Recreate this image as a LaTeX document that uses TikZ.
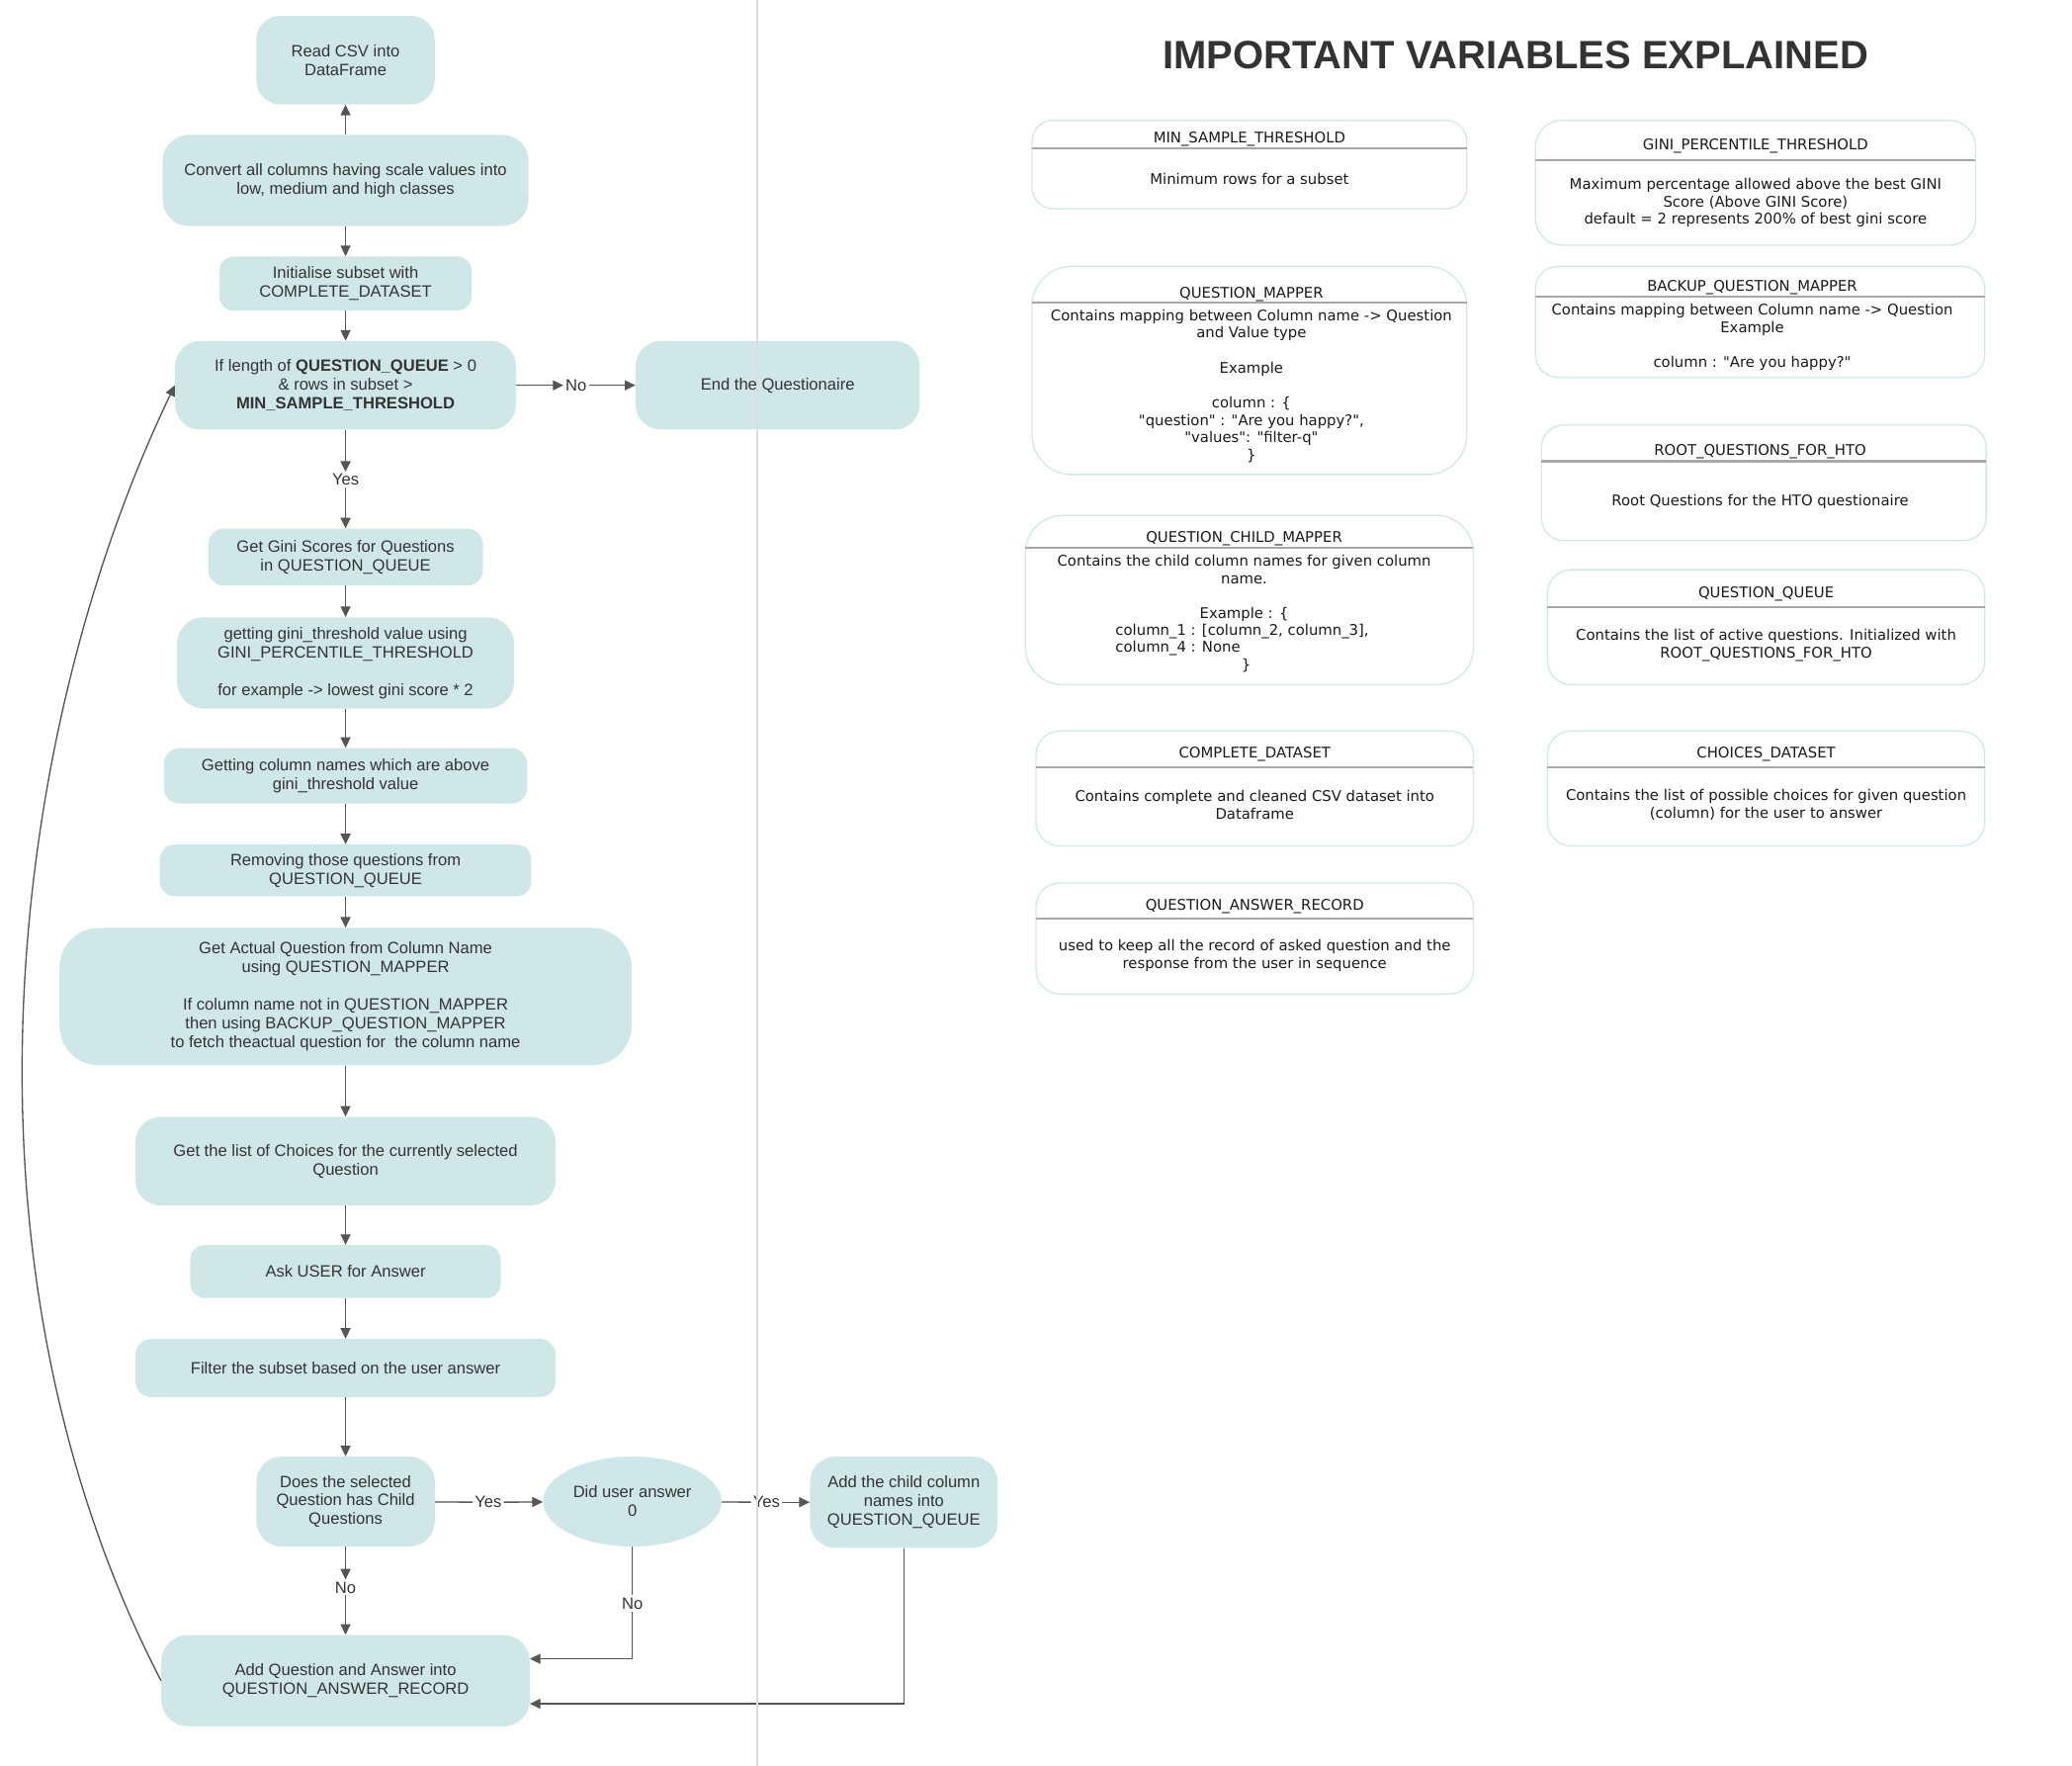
\documentclass[tikz,border=0pt]{standalone}
\usepackage{fontspec}
\usetikzlibrary{arrows.meta,shapes.geometric}
\newfontfamily\flowfont{Liberation Sans}
\newfontfamily\varfont{DejaVu Sans}
\definecolor{boxfill}{HTML}{D0E7E9}
\definecolor{txtgray}{HTML}{333333}
\definecolor{edgecol}{HTML}{555555}
\definecolor{rborder}{HTML}{D3E8EB}
\definecolor{sepcol}{HTML}{A8A8A8}
\definecolor{divcol}{HTML}{DDDDDD}
\definecolor{vartxt}{HTML}{1A1A1A}
\begin{document}
\begin{tikzpicture}[x=1pt,y=-1pt,
 flowbox/.style={fill=boxfill, inner sep=0pt, align=center, text=txtgray, font=\flowfont\fontsize{12.4}{14.2}\selectfont},
 lbl/.style={inner sep=1.5pt, text=txtgray, font=\flowfont\fontsize{12.4}{14.2}\selectfont},
 arr/.style={draw=edgecol, line width=1pt, -{Triangle[length=8pt,width=7.5pt]}},
 ln/.style={draw=edgecol, line width=1pt},
 varbox/.style={draw=rborder, line width=1pt, fill=white, inner sep=0pt},
 vtxt/.style={inner sep=0pt, align=center, text=vartxt, yshift=-1.5pt, font=\varfont\fontsize{11.1}{13.2}\selectfont},
 seprule/.style={draw=sepcol, line width=1.6pt},
]
\useasboundingbox[fill=white] (0,0) rectangle (1568,1336);

% ---------------- flowchart ----------------
\node[flowbox, minimum width=135pt, minimum height=67pt, rounded corners=18pt] (read) at (261.5,45.5) {Read CSV into\\DataFrame};
\node[flowbox, minimum width=277pt, minimum height=69pt, rounded corners=20pt] (conv) at (261.5,136.5) {Convert all columns having scale values into\\low, medium and high classes};
\node[flowbox, minimum width=191pt, minimum height=41pt, rounded corners=11pt] (init) at (261.5,214.5) {Initialise subset with\\COMPLETE\_DATASET};
\node[flowbox, minimum width=258pt, minimum height=67pt, rounded corners=19pt] (dec) at (261.5,291.5) {If length of \textbf{QUESTION\_QUEUE} > 0\\\& rows in subset >\\\textbf{MIN\_SAMPLE\_THRESHOLD}};
\node[flowbox, minimum width=215pt, minimum height=67pt, rounded corners=19pt] (end) at (588.5,291.5) {End the Questionaire};
\node[flowbox, minimum width=208pt, minimum height=43pt, rounded corners=12pt] (gini) at (261.5,421.5) {Get Gini Scores for Questions\\in QUESTION\_QUEUE};
\node[flowbox, minimum width=255pt, minimum height=69pt, rounded corners=20pt] (thr) at (261.5,501.5) {getting gini\_threshold value using\\GINI\_PERCENTILE\_THRESHOLD\\[14.2pt]for example -> lowest gini score * 2};
\node[flowbox, minimum width=275pt, minimum height=42pt, rounded corners=12pt] (cols) at (261.5,587) {Getting column names which are above\\gini\_threshold value};
\node[flowbox, minimum width=281pt, minimum height=39pt, rounded corners=11pt] (rem) at (261.5,658.5) {Removing those questions from\\QUESTION\_QUEUE};
\node[flowbox, minimum width=433pt, minimum height=104pt, rounded corners=30pt] (act) at (261.5,754) {Get Actual Question from Column Name\\using QUESTION\_MAPPER\\[14.2pt]If column name not in QUESTION\_MAPPER\\then using BACKUP\_QUESTION\_MAPPER\\to fetch theactual question for\ \ the column name};
\node[flowbox, minimum width=318pt, minimum height=67pt, rounded corners=19pt] (choi) at (261.5,878.5) {Get the list of Choices for the currently selected\\Question};
\node[flowbox, minimum width=235pt, minimum height=40pt, rounded corners=11pt] (ask) at (261.5,962) {Ask USER for Answer};
\node[flowbox, minimum width=318pt, minimum height=44pt, rounded corners=12pt] (filt) at (261.5,1035) {Filter the subset based on the user answer};
\node[flowbox, minimum width=135pt, minimum height=68pt, rounded corners=19pt] (does) at (261.5,1136) {Does the selected\\Question has Child\\Questions};
\node[flowbox, ellipse, minimum width=135pt, minimum height=68pt] (ell) at (478.5,1136) {Did user answer\\0};
\node[flowbox, minimum width=142pt, minimum height=69pt, rounded corners=19pt] (child) at (684,1136.5) {Add the child column\\names into\\QUESTION\_QUEUE};
\node[flowbox, minimum width=279pt, minimum height=69pt, rounded corners=20pt] (add) at (261.5,1271.5) {Add Question and Answer into\\QUESTION\_ANSWER\_RECORD};

% labels
\node[lbl] (lNo1) at (436,291.5) {No};
\node[lbl] (lYes1) at (261.5,363) {Yes};
\node[lbl] (lNo2) at (261.5,1201) {No};
\node[lbl] (lYes2) at (369.5,1136.5) {Yes};
\node[lbl] (lYes3) at (580,1136.5) {Yes};
\node[lbl] (lNo3) at (478.5,1213) {No};
\coordinate (c1) at (401,1255);
\coordinate (c2) at (401,1289);

% connectors
\draw[arr] (conv) -- (read);
\draw[arr] (conv) -- (init);
\draw[arr] (init) -- (dec);
\draw[arr] (dec) -- (lNo1);
\draw[arr] (lNo1) -- (end);
\draw[arr] (dec) -- (lYes1);
\draw[arr] (lYes1) -- (gini);
\draw[arr] (gini) -- (thr);
\draw[arr] (thr) -- (cols);
\draw[arr] (cols) -- (rem);
\draw[arr] (rem) -- (act);
\draw[arr] (act) -- (choi);
\draw[arr] (choi) -- (ask);
\draw[arr] (ask) -- (filt);
\draw[arr] (filt) -- (does);
\draw[arr] (does) -- (lNo2);
\draw[arr] (lNo2) -- (add);
\draw[ln] (does) -- (lYes2);
\draw[arr] (lYes2) -- (ell);
\draw[ln] (ell) -- (lYes3);
\draw[arr] (lYes3) -- (child);
\draw[ln] (ell) -- (lNo3);
\draw[arr] (lNo3) |- (c1);
\draw[arr] (child.south) |- (c2);
\draw[arr] (add.west) .. controls (-44,950) and (8,550) .. (dec.west);

% ---------------- variables ----------------
\node[text=txtgray, inner sep=0pt, font=\flowfont\bfseries\fontsize{29.9}{32}\selectfont] (title) at (1147,42) {IMPORTANT VARIABLES EXPLAINED};

\node[varbox, minimum width=329pt, minimum height=67pt, rounded corners=16pt] (vA) at (945.5,124.5) {};
\draw[seprule] (781,112.5) -- (1110,112.5);
\node[vtxt] (hA) at (945.5,104) {MIN\_SAMPLE\_THRESHOLD};
\node[vtxt] (bA) at (945.5,134) {Minimum rows for a subset};

\node[varbox, minimum width=333pt, minimum height=94.5pt, rounded corners=20pt] (vB) at (1328.5,138.25) {};
\draw[seprule] (1162,121) -- (1495,121);
\node[vtxt] (hB) at (1328.5,109) {GINI\_PERCENTILE\_THRESHOLD};
\node[vtxt] (bB) at (1328.5,152) {Maximum percentage allowed above the best GINI\\Score (Above GINI Score)\\default = 2 represents 200\% of best gini score};

\node[varbox, minimum width=329pt, minimum height=157.5pt, rounded corners=30pt] (vC) at (945.5,280.25) {};
\draw[seprule] (781,229) -- (1110,229);
\node[vtxt] (hC) at (947,221) {QUESTION\_MAPPER};
\node[vtxt] (bC) at (947,290.5) {Contains mapping between Column name -> Question\\and Value type\\[13.2pt]Example\\[13.2pt]column : \{\\"question" : "Are you happy?",\\"values": "filter-q"\\\}};

\node[varbox, minimum width=340pt, minimum height=84pt, rounded corners=17pt] (vD) at (1332,243.5) {};
\draw[seprule] (1162,224.5) -- (1502,224.5);
\node[vtxt] (hD) at (1326,216) {BACKUP\_QUESTION\_MAPPER};
\node[vtxt] (bD) at (1326,253.5) {Contains mapping between Column name -> Question\\Example\\[13.2pt]column : "Are you happy?"};

\node[varbox, minimum width=336.5pt, minimum height=87.5pt, rounded corners=17pt] (vE) at (1334.75,365.25) {};
\draw[seprule] (1166.5,349) -- (1503,349);
\node[vtxt] (hE) at (1332,340) {ROOT\_QUESTIONS\_FOR\_HTO};
\node[vtxt] (bE) at (1332,378) {Root Questions for the HTO questionaire};

\node[varbox, minimum width=339pt, minimum height=128pt, rounded corners=28pt] (vF) at (945.5,454) {};
\draw[seprule] (776,414.5) -- (1115,414.5);
\node[vtxt] (hF) at (941.5,406) {QUESTION\_CHILD\_MAPPER};
\node[vtxt] (bF) at (941.5,443.5) {Contains the child column names for given column\\name.\\[13.2pt]Example : \{};
\node[vtxt, anchor=west] (bF2) at (844,476) {column\_1 : [column\_2, column\_3],};
\node[vtxt, anchor=west] (bF3) at (844,489) {column\_4 : None};
\node[vtxt] (bF4) at (943,502) {\}};

\node[varbox, minimum width=331pt, minimum height=87pt, rounded corners=18pt] (vG) at (1336.5,474.5) {};
\draw[seprule] (1171,459) -- (1502,459);
\node[vtxt] (hG) at (1336.5,448) {QUESTION\_QUEUE};
\node[vtxt] (bG) at (1336.5,486.5) {Contains the list of active questions. Initialized with\\ROOT\_QUESTIONS\_FOR\_HTO};

\node[varbox, minimum width=331pt, minimum height=87pt, rounded corners=18pt] (vH) at (949.5,596.5) {};
\draw[seprule] (784,580.5) -- (1115,580.5);
\node[vtxt] (hH) at (949.5,569) {COMPLETE\_DATASET};
\node[vtxt] (bH) at (949.5,607.5) {Contains complete and cleaned CSV dataset into\\Dataframe};

\node[varbox, minimum width=331pt, minimum height=87pt, rounded corners=18pt] (vI) at (1336.5,596.5) {};
\draw[seprule] (1171,580.5) -- (1502,580.5);
\node[vtxt] (hI) at (1336.5,569) {CHOICES\_DATASET};
\node[vtxt] (bI) at (1336.5,607.5) {Contains the list of possible choices for given question\\(column) for the user to answer};

\node[varbox, minimum width=331pt, minimum height=84pt, rounded corners=18pt] (vJ) at (949.5,710) {};
\draw[seprule] (784,695) -- (1115,695);
\node[vtxt] (hJ) at (949.5,684) {QUESTION\_ANSWER\_RECORD};
\node[vtxt] (bJ) at (949.5,721.5) {used to keep all the record of asked question and the\\response from the user in sequence};

% divider
\draw[draw=divcol, line width=1pt] (573,0) -- (573,1336);
\end{tikzpicture}
\end{document}
